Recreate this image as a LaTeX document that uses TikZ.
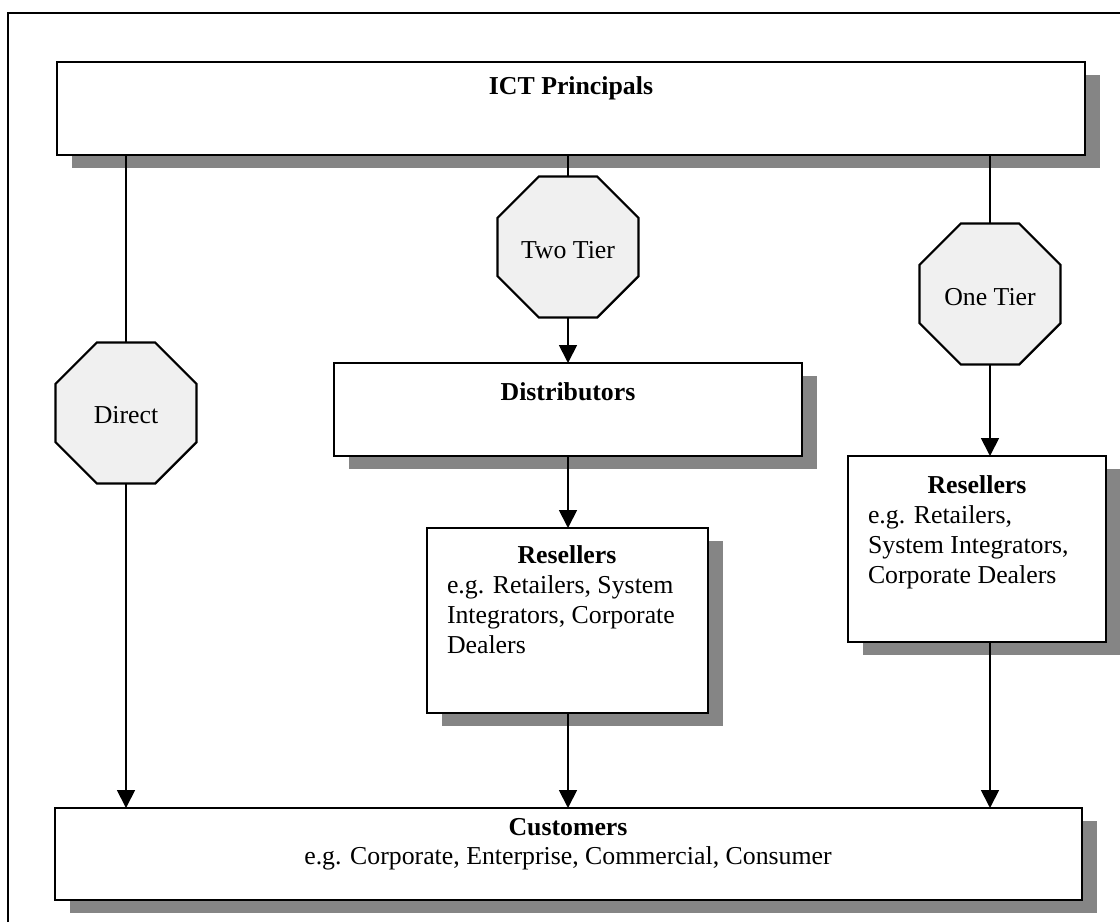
\documentclass[tikz,border=0pt]{standalone}
\usepackage{fontspec}
\setmainfont{Liberation Serif}
\usetikzlibrary{shapes.geometric,shadows,arrows.meta}
\begin{document}
\begin{tikzpicture}[x=0.5pt,y=-0.5pt,
  font=\fontsize{12.9}{15}\selectfont,
  boxnode/.style={draw=black,line width=1.1pt,fill=white,rectangle,anchor=north west,inner sep=0pt,outer sep=0pt,
    drop shadow={shadow xshift=7.5pt,shadow yshift=-6.5pt,fill=black!48,opacity=1}},
  octnode/.style={draw=black,line width=1.1pt,fill=black!6,regular polygon,regular polygon sides=8,minimum size=76.3pt,inner sep=0pt,outer sep=0pt},
  conn/.style={line width=0.9pt},
  arr/.style={line width=0.9pt,-{Triangle[length=9pt,width=9pt]}},
  txt/.style={inner sep=0pt,outer sep=0pt},
  head/.style={inner sep=0pt,outer sep=0pt,font=\fontsize{12.9}{15}\selectfont\bfseries}]
\useasboundingbox (0,0) rectangle (1120,922);
% outer frame
\draw[line width=1pt] (8,922) -- (8,13) -- (1120,13);
% boxes
\node[boxnode,minimum width=514pt,minimum height=46.5pt] (ict) at (57,62) {};
\node[boxnode,minimum width=234pt,minimum height=46.5pt] (dist) at (334,363) {};
\node[boxnode,minimum width=140.5pt,minimum height=92.5pt] (res1) at (427,528) {};
\node[boxnode,minimum width=129pt,minimum height=93pt] (res2) at (848,456) {};
\node[boxnode,minimum width=513.5pt,minimum height=46pt] (cust) at (55,808) {};
% octagons
\node[octnode] (direct) at (126,413) {};
\node[octnode] (twotier) at (568,247) {};
\node[octnode] (onetier) at (990,294) {};
% texts
\node[head] (ictt) at (571,88) {ICT Principals};
\node[head] (distt) at (568,392) {Distributors};
\node[head] (res1h) at (567,555) {Resellers};
\node[txt,anchor=north west,align=left] (res1b) at (447,576) {e.g. Retailers, System\\Integrators, Corporate\\Dealers};
\node[head] (res2h) at (977,485) {Resellers};
\node[txt,anchor=north west,align=left] (res2b) at (868,506) {e.g. Retailers,\\System Integrators,\\Corporate Dealers};
\node[head] (custh) at (568,827) {Customers};
\node[txt] (custb) at (568,858) {e.g. Corporate, Enterprise, Commercial, Consumer};
\node[txt] (directt) at (126,415) {Direct};
\node[txt] (twotiert) at (568,250) {Two Tier};
\node[txt] (onetiert) at (990,297) {One Tier};
% connectors
\draw[conn] (direct.north |- ict.south) -- (direct.north);
\draw[arr] (direct.south) -- (direct.south |- cust.north);
\draw[conn] (twotier.north |- ict.south) -- (twotier.north);
\draw[arr] (twotier.south) -- (twotier.south |- dist.north);
\draw[arr] (twotier.south |- dist.south) -- (twotier.south |- res1.north);
\draw[arr] (twotier.south |- res1.south) -- (twotier.south |- cust.north);
\draw[conn] (onetier.north |- ict.south) -- (onetier.north);
\draw[arr] (onetier.south) -- (onetier.south |- res2.north);
\draw[arr] (onetier.south |- res2.south) -- (onetier.south |- cust.north);
\end{tikzpicture}
\end{document}
